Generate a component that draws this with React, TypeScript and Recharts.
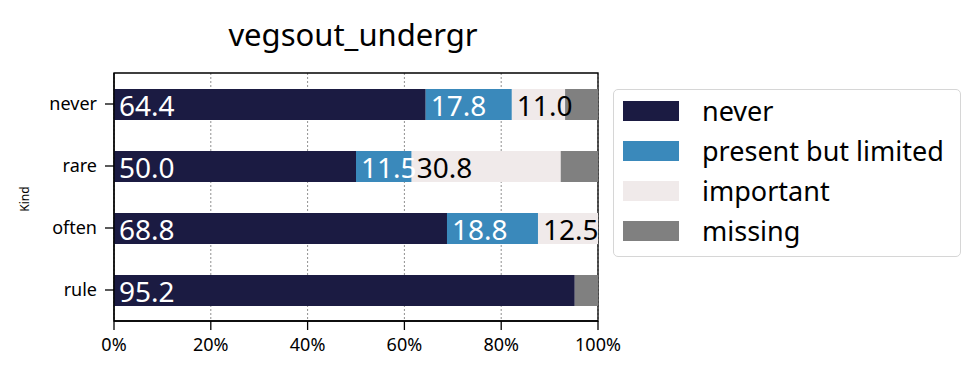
import React from "react";
import {
  BarChart,
  Bar,
  XAxis,
  YAxis,
  CartesianGrid,
  ReferenceArea,
  LabelList,
} from "recharts";

const kinds = ["never", "rare", "often", "rule"];
const neverVals = [64.4, 50.0, 68.8, 95.2];
const limitedVals = [17.8, 11.5, 18.8, 0];
const importantVals = [11.0, 30.8, 12.5, 0];
const missingVals = [6.8, 7.7, 0, 4.8];
const xTicks = [0, 20, 40, 60, 80, 100];

const series = [
  { key: "never", name: "never", color: "#1b1b42", text: "#ffffff", label: true },
  { key: "limited", name: "present but limited", color: "#3a89bb", text: "#ffffff", label: true },
  { key: "important", name: "important", color: "#f0eaea", text: "#000000", label: true },
  { key: "missing", name: "missing", color: "#808080", text: "#000000", label: false },
];

const data = kinds.map((k, i) => ({
  kind: k,
  never: neverVals[i],
  limited: limitedVals[i],
  important: importantVals[i],
  missing: missingVals[i],
}));

const FONT = "'Noto Sans', sans-serif";

const makeLabel = (fill: string) => (props: any) => {
  const { x, y, height, value } = props;
  if (!value) return null;
  return (
    <text
      x={x + 5}
      y={y + height / 2}
      fill={fill}
      fontSize={28}
      fontFamily={FONT}
      dominantBaseline="central"
    >
      {Number(value).toFixed(1)}
    </text>
  );
};

const App: React.FC = () => {
  return (
    <div style={{ position: "absolute", left: 0, top: 0, width: 979, height: 377, background: "#fff", fontFamily: FONT }}>
      <div
        style={{
          position: "absolute",
          left: 114,
          width: 478,
          top: 14,
          textAlign: "center",
          fontSize: 31,
          lineHeight: "40px",
          color: "#000",
        }}
      >
        vegsout_undergr
      </div>
      <div
        style={{
          position: "absolute",
          left: 24,
          top: 199,
          fontSize: 12,
          transform: "translate(-50%, -50%) rotate(-90deg)",
          color: "#000",
        }}
      >
        Kind
      </div>
      <BarChart
        width={979}
        height={377}
        data={data}
        layout="vertical"
        margin={{ top: 73, right: 381, bottom: 0, left: 0 }}
        barSize={31}
      >
        <CartesianGrid
          horizontal={false}
          stroke="#444"
          strokeDasharray="2 2"
          strokeWidth={0.6}
        />
        <XAxis
          type="number"
          domain={[0, 100]}
          ticks={xTicks}
          tickFormatter={(v) => `${v}%`}
          height={56}
          tick={{ fill: "#000", fontSize: 18, fontFamily: FONT }}
          tickLine={{ stroke: "#000", strokeWidth: 1.3 }}
          axisLine={{ stroke: "#000", strokeWidth: 1.3 }}
          tickSize={9}
          tickMargin={8}
          allowDataOverflow
        />
        <YAxis
          type="category"
          dataKey="kind"
          width={114}
          tick={{ fill: "#000", fontSize: 18, fontFamily: FONT }}
          tickLine={{ stroke: "#000", strokeWidth: 1.3 }}
          axisLine={{ stroke: "#000", strokeWidth: 1.3 }}
          tickSize={9}
          tickMargin={8}
        />
        {series.map((s) => (
          <Bar
            key={s.key}
            dataKey={s.key}
            name={s.name}
            stackId="a"
            fill={s.color}
            isAnimationActive={false}
          >
            {s.label && <LabelList dataKey={s.key} content={makeLabel(s.text)} />}
          </Bar>
        ))}
        <ReferenceArea
          x1={0}
          x2={100}
          fill="none"
          stroke="#000"
          strokeWidth={1.3}
          ifOverflow="visible"
        />
      </BarChart>
      <div
        style={{
          position: "absolute",
          left: 613,
          top: 89,
          width: 348,
          height: 168,
          border: "1.5px solid #d6d6d6",
          borderRadius: 5,
          boxSizing: "border-box",
        }}
      >
        {series.map((s, i) => (
          <div
            key={s.key}
            style={{
              position: "absolute",
              left: 9,
              top: 10.5 + i * 40,
              display: "flex",
              alignItems: "center",
              height: 20,
            }}
          >
            <div style={{ width: 56, height: 20, background: s.color }} />
            <span style={{ marginLeft: 23, fontSize: 27, color: "#000", whiteSpace: "nowrap" }}>
              {s.name}
            </span>
          </div>
        ))}
      </div>
    </div>
  );
};

export default App;
